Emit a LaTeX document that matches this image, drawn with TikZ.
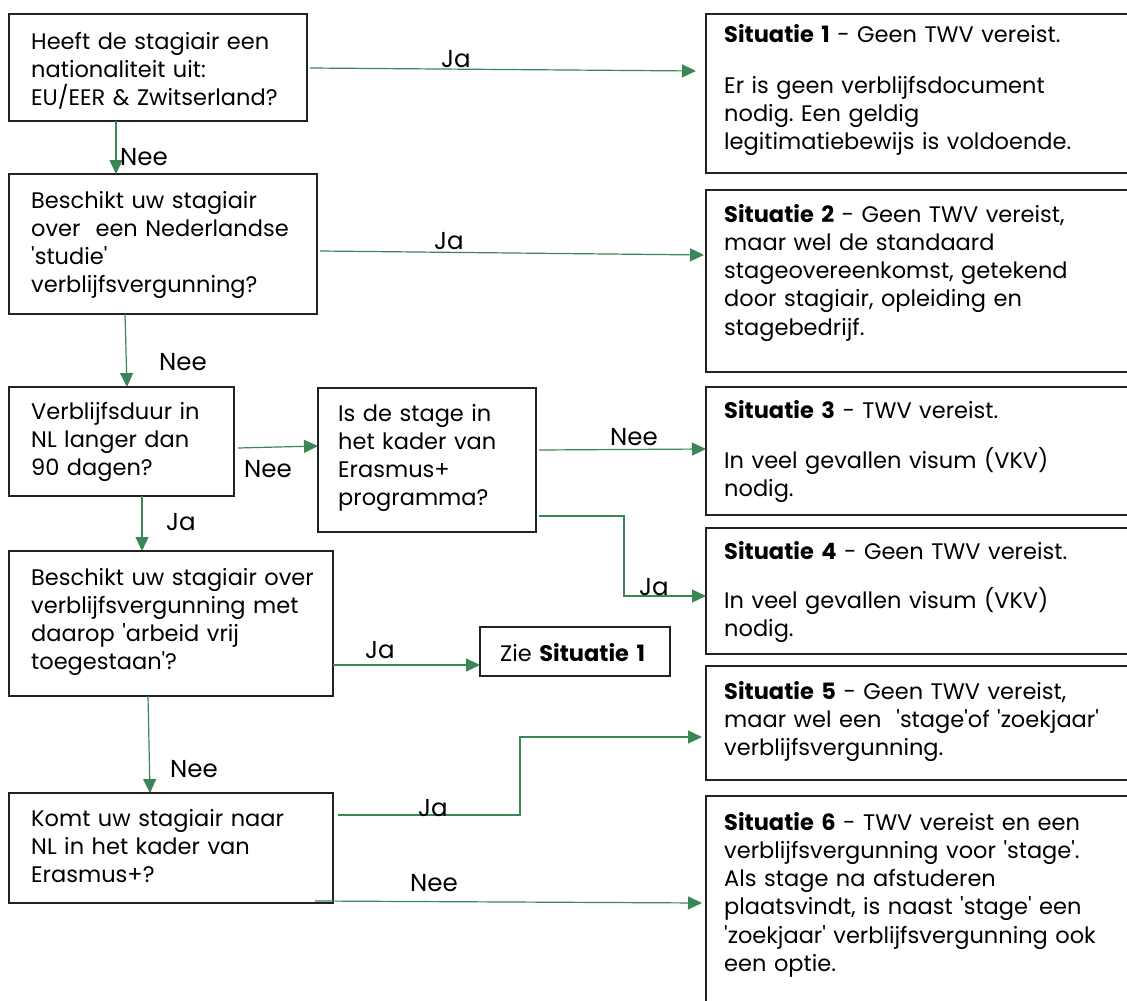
\documentclass[tikz,border=0pt]{standalone}
\usepackage{fontspec}
\setmainfont{Poppins}[Ligatures=TeXOff]
\usetikzlibrary{arrows.meta,calc}
\definecolor{arrgreen}{HTML}{3A8755}
\definecolor{boxline}{HTML}{222222}
\frenchspacing
\begin{document}
\begin{tikzpicture}[x=1pt,y=-1pt,
  box/.style={draw=boxline,line width=1.1pt,inner sep=0pt,outer sep=0pt,anchor=north west},
  txt/.style={font=\fontsize{22.5}{28.3}\selectfont\frenchspacing,inner sep=0pt,anchor=base west,align=left,text width=420pt},
  lbl/.style={font=\fontsize{24.5}{28}\selectfont,inner sep=0pt,anchor=base},
  arr/.style={draw=arrgreen,line width=1.2pt,arrows={-{Triangle[length=14pt,width=13pt,fill=arrgreen]}}}]
\useasboundingbox (0,0) rectangle (1127,1001);
\clip (0,0) rectangle (1127,1001);
% boxes
\node[box,minimum width=298pt,minimum height=107pt] (b1) at (9,14) {};
\node[box,minimum width=308pt,minimum height=140pt] (b2) at (9,174) {};
\node[box,minimum width=225pt,minimum height=109pt] (b3) at (9,387) {};
\node[box,minimum width=218pt,minimum height=144pt] (b4) at (318,388) {};
\node[box,minimum width=324pt,minimum height=145pt] (b5) at (9,551) {};
\node[box,minimum width=190pt,minimum height=49pt] (b6) at (480,627) {};
\node[box,minimum width=324pt,minimum height=110pt] (b7) at (9,793) {};
\node[box,minimum width=440pt,minimum height=159pt] (s1) at (706,14) {};
\node[box,minimum width=440pt,minimum height=182pt] (s2) at (706,190) {};
\node[box,minimum width=440pt,minimum height=128pt] (s3) at (706,387) {};
\node[box,minimum width=440pt,minimum height=126pt] (s4) at (706,528) {};
\node[box,minimum width=440pt,minimum height=114pt] (s5) at (706,666) {};
\node[box,minimum width=440pt,minimum height=260pt] (s6) at (706,796) {};
% texts
\node[txt] (t1) at (31,49) {Heeft de stagiair een\\nationaliteit uit:\\EU/EER \& Zwitserland?};
\node[txt] (t2) at (31,208) {Beschikt uw stagiair\\over\ \ een Nederlandse\\'studie'\\verblijfsvergunning?};
\node[txt] (t3) at (31,419) {Verblijfsduur in\\NL langer dan\\90 dagen?};
\node[txt] (t4) at (338,421) {Is de stage in\\het kader van\\Erasmus+\\programma?};
\node[txt] (t5) at (31,585) {Beschikt uw stagiair over\\verblijfsvergunning met\\daarop 'arbeid vrij\\toegestaan'?};
\node[txt] (t6) at (500,661) {Zie \textbf{Situatie 1}};
\node[txt] (t7) at (31,826) {Komt uw stagiair naar\\NL in het kader van\\Erasmus+?};
\node[txt] (u1) at (724,42) {\textbf{Situatie 1} - Geen TWV vereist.\\[22.7pt]Er is geen verblijfsdocument\\nodig. Een geldig\\legitimatiebewijs is voldoende.};
\node[txt] (u2) at (724,222) {\textbf{Situatie 2} - Geen TWV vereist,\\maar wel de standaard\\stageovereenkomst, getekend\\door stagiair, opleiding en\\stagebedrijf.};
\node[txt] (u3) at (724,418) {\textbf{Situatie 3} - TWV vereist.\\[21.7pt]In veel gevallen visum (VKV)\\nodig.};
\node[txt] (u4) at (724,559) {\textbf{Situatie 4} - Geen TWV vereist.\\[20.7pt]In veel gevallen visum (VKV)\\nodig.};
\node[txt] (u5) at (724,699) {\textbf{Situatie 5} - Geen TWV vereist,\\maar wel een\ \ 'stage'of 'zoekjaar'\\verblijfsvergunning.};
\node[txt] (u6) at (724,830) {\textbf{Situatie 6} - TWV vereist en een\\verblijfsvergunning voor 'stage'.\\Als stage na afstuderen\\plaatsvindt, is naast 'stage' een\\'zoekjaar' verblijfsvergunning ook\\een optie.};
% connectors
\draw[arr] ($(b1.east|-0,68)+(3,0)$) -- ($(s1.west|-0,71)+(-10,0)$);
\draw[arr] (116,0|-b1.south) -- (116,0|-b2.north);
\draw[arr] ($(b2.east|-0,251)+(3,0)$) -- ($(s2.west|-0,255)+(-2,0)$);
\draw[arr] (125,0|-b2.south) -- (127,0|-b3.north);
\draw[arr] ($(b3.east|-0,448)+(4,0)$) -- (b4.west|-0,446);
\draw[arr] ($(b4.east|-0,450)+(3,0)$) -- (s3.west|-0,449);
\draw[arr] ($(b4.east|-0,516)+(3,0)$) -- (624,516) -- (624,596) -- (s4.west|-0,596);
\draw[arr] (142,0|-b3.south) -- (142,0|-b5.north);
\draw[arr] (b5.east|-0,665) -- (b6.west|-0,665);
\draw[arr] (148,0|-b5.south) -- (150,0|-b7.north);
\draw[arr] ($(b7.east|-0,815)+(5,0)$) -- (520,815) -- (520,737) -- ($(s5.west|-0,737)+(-4,0)$);
\draw[arr] ($(b7.east|-0,901)+(-18,0)$) -- ($(s6.west|-0,903)+(-4,0)$);
% labels
\node[lbl] (l1) at (456,67) {Ja};
\node[lbl] (l2) at (144,165) {Nee};
\node[lbl] (l3) at (449,249) {Ja};
\node[lbl] (l4) at (183,370) {Nee};
\node[lbl] (l5) at (268,477) {Nee};
\node[lbl] (l6) at (634,445) {Nee};
\node[lbl] (l7) at (654,595) {Ja};
\node[lbl] (l8) at (181,530) {Ja};
\node[lbl] (l9) at (380,658) {Ja};
\node[lbl] (l10) at (194,777) {Nee};
\node[lbl] (l11) at (433,816) {Ja};
\node[lbl] (l12) at (434,891) {Nee};
\end{tikzpicture}
\end{document}
